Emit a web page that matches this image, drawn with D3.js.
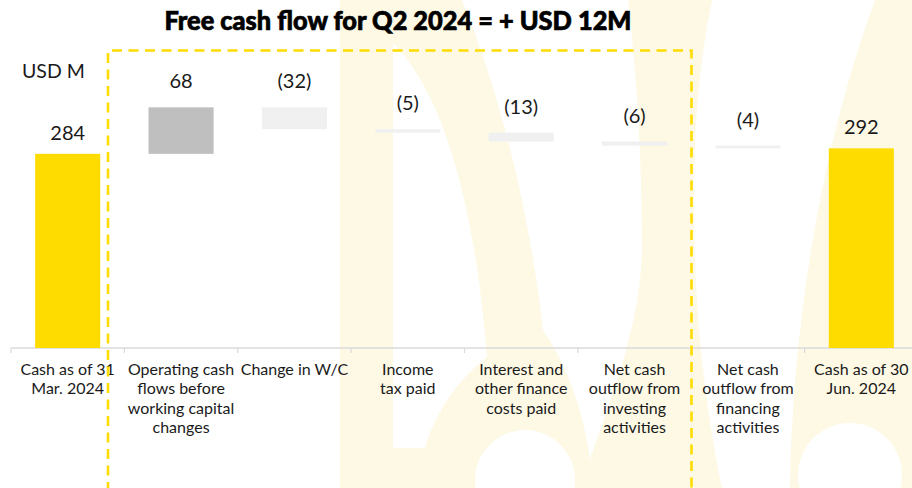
<!DOCTYPE html>
<html>
<head>
<meta charset="utf-8">
<script src="https://cdn.jsdelivr.net/npm/d3@7"></script>
<style>
  html, body { margin: 0; padding: 0; background: #ffffff; }
  svg { display: block; }
  text { font-family: Lato, "Open Sans", "Noto Sans", sans-serif; fill: #1a1a1a; }
</style>
</head>
<body>
<svg id="chart" width="912" height="488"></svg>
<script>
// Cash bridge, Q2 2024 (USD M)
const categories = [
  "Cash as of 31\nMar. 2024",
  "Operating cash\nflows before\nworking capital\nchanges",
  "Change in W/C",
  "Income\ntax paid",
  "Interest and\nother finance\ncosts paid",
  "Net cash\noutflow from\ninvesting\nactivities",
  "Net cash\noutflow from\nfinancing\nactivities",
  "Cash as of 30\nJun. 2024"
];
const stepTypes = ["total", "delta", "delta", "delta", "delta", "delta", "delta", "total"];
const values = [284, 68, -32, -5, -13, -6, -4, 292];

const titleText = "Free cash flow for Q2 2024 = + USD 12M";
const unitText = "USD M";

const W = 912, H = 488;
const svg = d3.select("#chart");

const colors = { total: "#FFDC00", up: "#BFBFBF", down: "#F0F0F0" };

// faint brand mark in the background
const mark = svg.append("g").attr("fill", "#FDF9E5").attr("fill-rule", "evenodd");
mark.append("path").attr("d",
  "M340,0 L462,0 C498,90 528,200 543,330 C572,372 590,430 592,488 L340,488 Z " +
  "M393,43 C432,82 472,170 487,357 C458,380 436,410 425,448 L393,448 Z " +
  "M475,480 A50,50 0 1 0 575,480 A50,50 0 1 0 475,480 Z");
mark.append("path").attr("d",
  "M628,0 L712,0 C700,60 694,120 694,200 C694,290 700,380 722,488 L580,488 C610,400 640,330 642,250 C642,150 636,70 628,0 Z");
mark.append("path").attr("d",
  "M875,0 L912,0 L912,488 L790,488 C792,330 820,150 875,0 Z " +
  "M798,475 A52,52 0 1 0 902,475 A52,52 0 1 0 798,475 Z");

// waterfall geometry
const steps = [];
let running = 0;
values.forEach((v, i) => {
  if (stepTypes[i] === "total") {
    steps.push({ cat: categories[i], type: "total", v, y0: 0, y1: v });
    running = v;
  } else {
    const start = running;
    running += v;
    steps.push({ cat: categories[i], type: "delta", v, y0: start, y1: running });
  }
});

const x = d3.scaleBand()
  .domain(categories)
  .range([11, 918])
  .paddingInner(0.426)
  .paddingOuter(0.213);

const y = d3.scaleLinear().domain([0, 509]).range([348, 0]);

// axis baseline with band separators
const axis = svg.append("g").attr("transform", `translate(0,${y(0)})`);
axis.append("line")
  .attr("x1", 11).attr("x2", W)
  .attr("stroke", "#DADADA").attr("stroke-width", 1.5);
const edgeOffset = x.step() * x.paddingOuter();
axis.selectAll("line.sep")
  .data(categories)
  .join("line")
  .attr("class", "sep")
  .attr("x1", d => x(d) - edgeOffset)
  .attr("x2", d => x(d) - edgeOffset)
  .attr("y1", 0).attr("y2", 5)
  .attr("stroke", "#DADADA").attr("stroke-width", 1.2);

// bars
svg.append("g").selectAll("rect")
  .data(steps)
  .join("rect")
  .attr("x", d => x(d.cat))
  .attr("width", x.bandwidth())
  .attr("y", d => y(Math.max(d.y0, d.y1)))
  .attr("height", d => Math.abs(y(d.y0) - y(d.y1)))
  .attr("fill", d => d.type === "total" ? colors.total : (d.v >= 0 ? colors.up : colors.down));

// value labels
const fmt = d => d.type === "total" ? String(d.v) : (d.v < 0 ? `(${Math.abs(d.v)})` : String(d.v));
svg.append("g").selectAll("text")
  .data(steps)
  .join("text")
  .attr("x", d => x(d.cat) + x.bandwidth() / 2)
  .attr("y", d => y(Math.max(d.y0, d.y1)) - (d.type === "total" ? 14 : 19))
  .attr("text-anchor", "middle")
  .attr("font-size", 20)
  .text(fmt);

// category labels
const catG = svg.append("g");
categories.forEach(c => {
  const t = catG.append("text")
    .attr("x", x(c) + x.bandwidth() / 2)
    .attr("y", 375)
    .attr("text-anchor", "middle")
    .attr("font-size", 16);
  c.split("\n").forEach((line, i) => {
    t.append("tspan")
      .attr("x", x(c) + x.bandwidth() / 2)
      .attr("dy", i === 0 ? 0 : 19.3)
      .text(line);
  });
});

// unit label
svg.append("text")
  .attr("x", 22).attr("y", 78)
  .attr("font-size", 19.5)
  .text(unitText);

// free cash flow bracket
svg.append("path")
  .attr("d", `M108,${H + 4} V50.5 H691.5 V${H + 4}`)
  .attr("fill", "none")
  .attr("stroke", "#FFDC00")
  .attr("stroke-width", 2.6)
  .attr("stroke-dasharray", "10,6.5");

// title
svg.append("text")
  .attr("x", 398).attr("y", 30)
  .attr("text-anchor", "middle")
  .attr("font-size", 26)
  .attr("font-weight", 900)
  .attr("textLength", 467)
  .attr("lengthAdjust", "spacingAndGlyphs")
  .style("fill", "#000")
  .style("stroke", "#000")
  .style("stroke-width", 0.7)
  .text(titleText);
</script>
</body>
</html>
